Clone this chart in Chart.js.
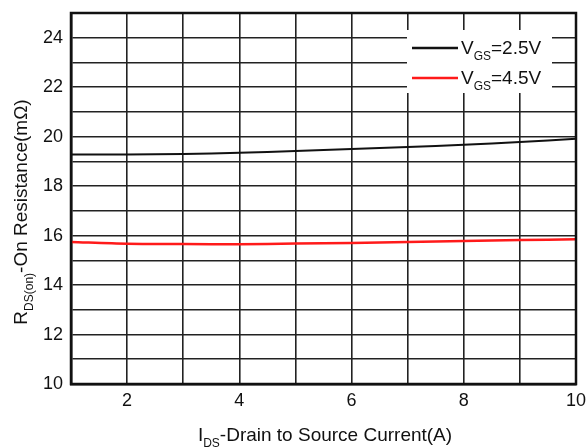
<!DOCTYPE html>
<html>
<head>
<meta charset="utf-8">
<script src="https://cdn.jsdelivr.net/npm/chart.js@4/dist/chart.umd.min.js"></script>
<style>
  html, body { margin: 0; padding: 0; background: #fff; }
  #wrap { width: 587px; height: 448px; }
</style>
</head>
<body>
<div id="wrap"><canvas id="rdson"></canvas></div>
<script>
const currentA = [1, 2, 3, 4, 5, 6, 7, 8, 9, 10];
const rdsVgs25 = [19.28, 19.28, 19.3, 19.35, 19.42, 19.5, 19.58, 19.67, 19.78, 19.92];
const rdsVgs45 = [15.74, 15.67, 15.66, 15.65, 15.68, 15.7, 15.74, 15.78, 15.82, 15.85];
const yLabels = [10, 12, 14, 16, 18, 20, 22, 24];
const xLabels = [2, 4, 6, 8, 10];

const FONT = "'Liberation Sans', Arial, sans-serif";

// text with a subscript part: main + sub + rest
function subText(ctx, x, y, main, sub, rest, size) {
  ctx.font = size + "px " + FONT;
  ctx.fillText(main, x, y);
  let w = ctx.measureText(main).width;
  ctx.font = Math.round(size * 0.65) + "px " + FONT;
  ctx.fillText(sub, x + w, y + size * 0.3);
  w += ctx.measureText(sub).width;
  ctx.font = size + "px " + FONT;
  ctx.fillText(rest, x + w, y);
  return w + ctx.measureText(rest).width;
}
function subWidth(ctx, main, sub, rest, size) {
  ctx.font = size + "px " + FONT;
  let w = ctx.measureText(main).width + ctx.measureText(rest).width;
  ctx.font = Math.round(size * 0.65) + "px " + FONT;
  return w + ctx.measureText(sub).width;
}

const annotations = {
  id: "annotations",
  afterDraw(chart) {
    const ctx = chart.ctx;
    ctx.save();
    ctx.fillStyle = "#111";
    ctx.textBaseline = "alphabetic";

    // x title
    let w = subWidth(ctx, "I", "DS", "-Drain to Source Current(A)", 19);
    subText(ctx, 325 - w / 2, 441, "I", "DS", "-Drain to Source Current(A)", 19);

    // y title
    ctx.translate(27, 212);
    ctx.rotate(-Math.PI / 2);
    w = subWidth(ctx, "R", "DS(on)", "-On Resistance(mΩ)", 19);
    subText(ctx, -w / 2, 0, "R", "DS(on)", "-On Resistance(mΩ)", 19);
    ctx.setTransform(1, 0, 0, 1, 0, 0);

    // legend box
    ctx.fillStyle = "#fff";
    ctx.fillRect(407, 30, 145, 63);
    const items = [
      { color: "#111", sub: "GS", rest: "=2.5V", y: 48 },
      { color: "#ff1a1a", sub: "GS", rest: "=4.5V", y: 78 }
    ];
    items.forEach(it => {
      ctx.strokeStyle = it.color;
      ctx.lineWidth = 2.5;
      ctx.beginPath();
      ctx.moveTo(412, it.y);
      ctx.lineTo(458, it.y);
      ctx.stroke();
      ctx.fillStyle = "#111";
      subText(ctx, 461, it.y + 6, "V", it.sub, it.rest, 19);
    });
    ctx.restore();
  }
};

new Chart(document.getElementById("rdson"), {
  type: "line",
  data: {
    labels: currentA,
    datasets: [
      {
        label: "VGS=2.5V",
        data: rdsVgs25,
        borderColor: "#111",
        borderWidth: 2,
        pointRadius: 0,
        tension: 0.3
      },
      {
        label: "VGS=4.5V",
        data: rdsVgs45,
        borderColor: "#ff1a1a",
        borderWidth: 2.5,
        pointRadius: 0,
        tension: 0.3
      }
    ]
  },
  options: {
    responsive: true,
    maintainAspectRatio: false,
    animation: false,
    layout: { padding: { top: 13, right: 11, left: 0, bottom: 0 } },
    plugins: {
      legend: { display: false },
      tooltip: { enabled: false }
    },
    scales: {
      x: {
        type: "linear",
        min: 1,
        max: 10,
        afterFit(scale) {
          scale.height = 64;
          scale.paddingLeft = 0;
          scale.paddingRight = 0;
        },
        afterBuildTicks(scale) {
          scale.ticks = currentA.map(v => ({ value: v }));
        },
        ticks: {
          autoSkip: false,
          maxRotation: 0,
          padding: 6,
          color: "#111",
          font: { family: FONT, size: 18 },
          callback: v => (xLabels.includes(v) ? String(v) : "")
        },
        grid: { color: "#222", lineWidth: 1.6, drawTicks: false },
        border: { color: "#111", width: 2.5 }
      },
      y: {
        min: 10,
        max: 25,
        afterFit(scale) {
          scale.width = 71;
          scale.paddingTop = 0;
          scale.paddingBottom = 0;
        },
        ticks: {
          stepSize: 1,
          autoSkip: false,
          padding: 8,
          color: "#111",
          font: { family: FONT, size: 18 },
          callback: v => (yLabels.includes(v) ? String(v) : "")
        },
        grid: { color: "#222", lineWidth: 1.6, drawTicks: false },
        border: { color: "#111", width: 2.5 }
      }
    }
  },
  plugins: [annotations, {
    id: "frame",
    afterDraw(chart) {
      const a = chart.chartArea;
      const ctx = chart.ctx;
      ctx.save();
      ctx.strokeStyle = "#111";
      ctx.lineWidth = 2.5;
      ctx.strokeRect(a.left, a.top, a.right - a.left, a.bottom - a.top);
      ctx.restore();
    }
  }]
});
</script>
</body>
</html>
